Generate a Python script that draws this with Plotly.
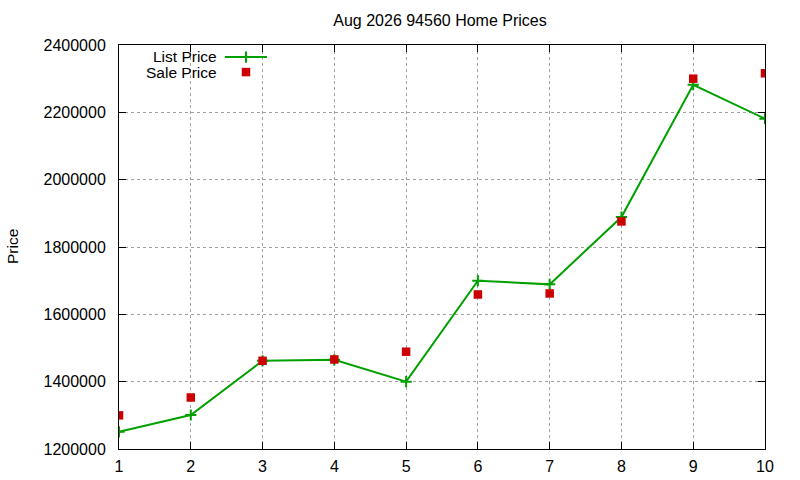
import plotly.graph_objects as go

# months shown on the x axis
months = [1, 2, 3, 4, 5, 6, 7, 8, 9, 10]

list_price = [1251000, 1301000, 1462000, 1465000, 1400000,
              1700000, 1689000, 1889000, 2282000, 2181000]
sale_price = [1300000, 1353000, 1462000, 1466000, 1489000,
              1659000, 1662000, 1876000, 2300000, 2316000]

green = '#00a000'
red = '#cc0000'
font = 'Liberation Sans, Arial, sans-serif'

cross = dict(symbol='cross-thin', size=8, line=dict(color=green, width=2))
square = dict(symbol='square', size=8.5, color=red)

fig = go.Figure()
fig.add_trace(go.Scatter(
    x=months, y=list_price, name='List Price', mode='lines+markers',
    line=dict(color=green, width=2), marker=cross))
fig.add_trace(go.Scatter(
    x=months, y=sale_price, name='Sale Price', mode='markers',
    marker=square))

# gnuplot style key: text on the left, sample on the right
fig.add_trace(go.Scatter(
    x=[0.164, 0.1966, 0.229], y=[0.970, 0.970, 0.970], xaxis='x2', yaxis='y2',
    mode='lines', line=dict(color=green, width=2), showlegend=False,
    hoverinfo='skip'))
fig.add_trace(go.Scatter(
    x=[0.1966], y=[0.970], xaxis='x2', yaxis='y2', mode='markers',
    marker=cross, showlegend=False, hoverinfo='skip'))
fig.add_trace(go.Scatter(
    x=[0.1966], y=[0.933], xaxis='x2', yaxis='y2', mode='markers',
    marker=square, showlegend=False, hoverinfo='skip'))

axis_common = dict(
    showline=True, linecolor='black', linewidth=1, mirror='allticks',
    ticks='inside', ticklen=7, tickcolor='black',
    showgrid=True, gridcolor='#a0a0a0', griddash='dot', gridwidth=1,
    zeroline=False, tickfont=dict(family=font, size=16, color='black'))

fig.update_layout(
    width=800, height=480,
    margin=dict(l=119, r=35, t=45, b=31, autoexpand=False),
    paper_bgcolor='white', plot_bgcolor='white',
    showlegend=False,
    title=dict(text='Aug 2026 94560 Home Prices', x=0.55, xanchor='center',
               y=0.958, yanchor='middle', yref='container',
               font=dict(family=font, size=16, color='black')),
    xaxis=dict(range=[1, 10], tickmode='linear', tick0=1, dtick=1,
               ticklabelstandoff=3, **axis_common),
    yaxis=dict(range=[1200000, 2400000], tickmode='linear', tick0=1200000,
               dtick=200000, tickformat='d', ticklabelstandoff=9,
               **axis_common),
    xaxis2=dict(range=[0, 1], overlaying='x', visible=False),
    yaxis2=dict(range=[0, 1], overlaying='y', visible=False),
    shapes=[dict(type='rect', xref='paper', yref='paper', x0=0.002, x1=0.234,
                 y0=0.913, y1=0.997, fillcolor='white', line=dict(width=0),
                 layer='between')],
    annotations=[
        dict(text='List Price', xref='paper', yref='paper', x=0.155, y=0.972,
             xanchor='right', yanchor='middle', showarrow=False,
             font=dict(family=font, size=15.5, color='black')),
        dict(text='Sale Price', xref='paper', yref='paper', x=0.155, y=0.931,
             xanchor='right', yanchor='middle', showarrow=False,
             font=dict(family=font, size=15.5, color='black')),
        dict(text='Price', xref='paper', yref='paper', x=-0.1656, y=0.5,
             xanchor='center', yanchor='middle', textangle=-90,
             showarrow=False, font=dict(family=font, size=15.5, color='black')),
    ],
)

# page body has a default margin, drop it so the figure sits at 0,0
fig.write_html('out.html', config={'displayModeBar': False},
               post_script="document.body.style.margin='0';")
